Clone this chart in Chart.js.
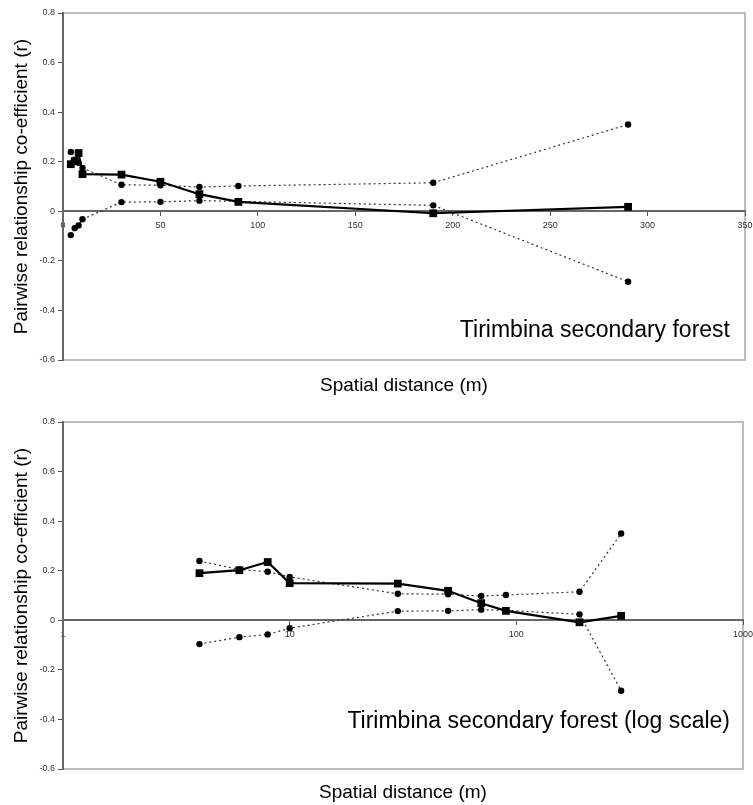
<!DOCTYPE html>
<html>
<head>
<meta charset="utf-8">
<script src="https://cdn.jsdelivr.net/npm/chart.js@4.4.0/dist/chart.umd.min.js"></script>
<style>
  body { margin: 0; background: #fff; }
  .wrap { position: absolute; left: 0; width: 753px; }
</style>
</head>
<body>
<div class="wrap" style="top:0;height:400px"><canvas id="linChart" width="753" height="400"></canvas></div>
<div class="wrap" style="top:400px;height:405px"><canvas id="logChart" width="753" height="405"></canvas></div>
<script>
const FONT = 'Arial, "Liberation Sans", sans-serif';

// distance classes (m) and pairwise relationship coefficient r
const distances = [4, 6, 8, 10, 30, 50, 70, 90, 190, 290];
const meanR = [0.19, 0.202, 0.235, 0.15, 0.148, 0.119, 0.069, 0.038, -0.008, 0.018];
const upperCI = [0.239, 0.205, 0.196, 0.175, 0.107, 0.105, 0.098, 0.102, 0.115, 0.35];
const lowerCI = [-0.096, -0.068, -0.057, -0.032, 0.037, 0.038, 0.043, 0.04, 0.024, -0.284];

const yTicks = [-0.6, -0.4, -0.2, 0, 0.2, 0.4, 0.6, 0.8];
const linTicks = [0, 50, 100, 150, 200, 250, 300, 350];
const logTicks = [1, 10, 100, 1000];

const yTitle = 'Pairwise relationship co-efficient (r)';
const xTitle = 'Spatial distance (m)';

function points(ys) {
    return distances.map((d, i) => ({ x: d, y: ys[i] }));
}

function buildDatasets() {
    return [
        {
            label: 'r',
            data: points(meanR),
            borderColor: '#000',
            backgroundColor: '#000',
            borderWidth: 2.2,
            pointStyle: 'rect',
            pointRadius: 5.5,
            pointBorderWidth: 0,
            order: 0
        },
        {
            label: 'upper',
            data: points(upperCI),
            borderColor: '#333',
            backgroundColor: '#000',
            borderWidth: 1.2,
            borderDash: [2, 3],
            pointRadius: 3.2,
            pointBorderWidth: 0,
            order: 1
        },
        {
            label: 'lower',
            data: points(lowerCI),
            borderColor: '#333',
            backgroundColor: '#000',
            borderWidth: 1.2,
            borderDash: [2, 3],
            pointRadius: 3.2,
            pointBorderWidth: 0,
            order: 2
        }
    ];
}

// light grey box around the plot area, drawn before the axes
const frame = {
    id: 'frame',
    beforeDraw(chart) {
        const { ctx, chartArea: a } = chart;
        ctx.save();
        ctx.strokeStyle = '#a8a8a8';
        ctx.lineWidth = 1.5;
        ctx.strokeRect(a.left, a.top, a.right - a.left, a.bottom - a.top);
        ctx.restore();
    }
};

// in-plot label and the x axis title
const notes = {
    id: 'notes',
    afterDraw(chart, args, opts) {
        const { ctx, chartArea: a } = chart;
        ctx.save();
        ctx.fillStyle = '#000';
        ctx.textBaseline = 'alphabetic';
        ctx.font = '23px ' + FONT;
        ctx.textAlign = 'right';
        ctx.fillText(opts.label, a.right - opts.labelRight, a.bottom - opts.labelUp);
        ctx.font = '19px ' + FONT;
        ctx.textAlign = 'center';
        ctx.fillText(xTitle, (a.left + a.right) / 2, a.bottom + opts.titleDown);
        ctx.restore();
    }
};

function makeChart(id, xType, xMin, xMax, xTicks, padding, noteOpts) {
    const ctx = document.getElementById(id).getContext('2d');
    return new Chart(ctx, {
        type: 'scatter',
        data: { datasets: buildDatasets() },
        options: {
            responsive: false,
            animation: false,
            showLine: true,
            layout: { padding },
            plugins: {
                legend: { display: false },
                tooltip: { enabled: false },
                notes: noteOpts
            },
            elements: { line: { tension: 0 } },
            scales: {
                x: {
                    type: xType,
                    position: { y: 0 },
                    min: xMin,
                    max: xMax,
                    afterBuildTicks: s => { s.ticks = xTicks.map(v => ({ value: v })); },
                    afterFit: s => { s.paddingLeft = 0; s.paddingRight = 0; },
                    ticks: {
                        callback: v => String(v),
                        font: { size: 9, family: FONT },
                        color: '#333',
                        padding: 5,
                        maxRotation: 0,
                        autoSkip: false
                    },
                    grid: { drawOnChartArea: false, tickLength: 4, color: '#555' },
                    border: { color: '#666', width: 2 }
                },
                y: {
                    type: 'linear',
                    position: 'left',
                    min: -0.6,
                    max: 0.8,
                    afterBuildTicks: s => { s.ticks = yTicks.map(v => ({ value: v })); },
                    afterFit: s => { s.width = 63; s.paddingTop = 0; s.paddingBottom = 0; },
                    ticks: {
                        callback: v => String(+v.toFixed(1)),
                        font: { size: 9, family: FONT },
                        color: '#333',
                        padding: 3
                    },
                    grid: { drawOnChartArea: false, tickLength: 5, color: '#555' },
                    border: { color: '#666', width: 2 },
                    title: {
                        display: true,
                        text: yTitle,
                        color: '#000',
                        font: { size: 19, family: FONT },
                        padding: { top: 10, bottom: 0 }
                    }
                }
            }
        },
        plugins: [frame, notes]
    });
}

makeChart('linChart', 'linear', 0, 350, linTicks,
    { top: 13, right: 8, bottom: 40, left: 0 },
    { label: 'Tirimbina secondary forest', labelRight: 15, labelUp: 23, titleDown: 31 });

makeChart('logChart', 'logarithmic', 1, 1000, logTicks,
    { top: 22, right: 10, bottom: 36, left: 0 },
    { label: 'Tirimbina secondary forest (log scale)', labelRight: 13, labelUp: 41, titleDown: 29 });
</script>
</body>
</html>
